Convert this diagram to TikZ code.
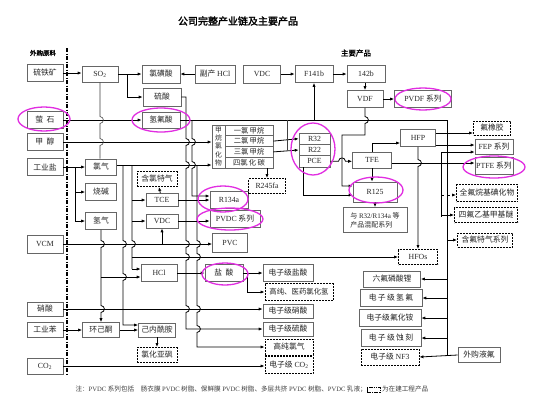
\documentclass[tikz,border=0pt]{standalone}
\usepackage{fontspec}
\setmainfont{Liberation Serif}
\newfontfamily\cjk[AutoFakeBold=2]{Noto Sans CJK SC}
\usetikzlibrary{arrows.meta}
\definecolor{mag}{RGB}{225,45,225}
\tikzset{
 bx/.style={draw=black!60, line width=0.6pt, fill=white, inner sep=0pt, font=\cjk\fontsize{7.8}{8.5}\selectfont, text=black!85, align=center},
 dbx/.style={bx, draw=black, dash pattern=on 2pt off 1pt, line width=0.9pt},
 ar/.style={-{Latex[length=4pt,width=3.2pt]}, line width=0.8pt},
 ln/.style={line width=0.8pt},
 tl/.style={line width=0.6pt, draw=black!75},
 oval/.style={draw=mag, line width=1.3pt},
 vj/.style 2 args={insert path={-- (#1,#2-3.5) .. controls (#1+4.5,#2-3) and (#1+4.5,#2+3) .. (#1,#2+3.5)}},
 hj/.style 2 args={insert path={-- (#1-3.5,#2) .. controls (#1-3,#2-4.5) and (#1+3,#2-4.5) .. (#1+3.5,#2)}},
}
\newcommand{\lt}[1]{{\rmfamily #1}}
\begin{document}
\begin{tikzpicture}[x=1pt,y=-1pt]
\useasboundingbox[fill=white] (0,0) rectangle (554,405);
% titles
\node[font=\cjk\bfseries\fontsize{10}{11}\selectfont] (title) at (238,21) {公司完整产业链及主要产品};
\node[font=\cjk\bfseries\fontsize{6.5}{7}\selectfont] (wg) at (43,53) {外购原料};
\node[font=\cjk\bfseries\fontsize{7.5}{8}\selectfont] (zy) at (356,53) {主要产品};
\draw[line width=1.2pt, dash pattern=on 4pt off 1.5pt on 1pt off 1.5pt] (67,48) -- (67,374);
% left column
\node[bx,minimum width=36,minimum height=17] (liu) at (45,73) {硫铁矿};
\node[bx,minimum width=36,minimum height=17] (ying) at (45,120) {萤\ \ 石};
\node[bx,minimum width=36,minimum height=17] (jiachun) at (45,142) {甲\ \ 醇};
\node[bx,minimum width=36,minimum height=17] (yan) at (45,167) {工业盐};
\node[bx,minimum width=36,minimum height=18] (vcm) at (45,244) {\lt{VCM}};
\node[bx,minimum width=36,minimum height=14] (xiao) at (45,309) {硝酸};
\node[bx,minimum width=36,minimum height=15] (ben) at (45,330) {工业苯};
\node[bx,minimum width=36,minimum height=16] (co2) at (45,366) {\lt{CO\textsubscript{2}}};
% column 2
\node[bx,minimum width=36,minimum height=16] (so2) at (100,74) {\lt{SO\textsubscript{2}}};
\node[bx,minimum width=31,minimum height=16] (lvqi) at (101,167) {氯气};
\node[bx,minimum width=31,minimum height=17] (shaojian) at (101,192) {烧碱};
\node[bx,minimum width=31,minimum height=17] (qingqi) at (101,221) {氢气};
\node[bx,minimum width=37,minimum height=15] (hjt) at (101,330) {环己酮};
% column 3
\node[bx,minimum width=38,minimum height=18] (lvhuang) at (161,74) {氯磺酸};
\node[bx,minimum width=38,minimum height=18] (liusuan) at (162,97) {硫酸};
\node[bx,minimum width=38,minimum height=16] (hf) at (161,120) {氢氟酸};
\node[bx,minimum width=40,minimum height=18] (fuchan) at (215,74) {副产 \lt{HCl}};
\node[bx,minimum width=37,minimum height=18] (vdca) at (262,74) {\lt{VDC}};
\node[bx,minimum width=38,minimum height=17] (f141b) at (314,74) {\lt{F141b}};
\node[bx,minimum width=38,minimum height=17] (b142) at (366,74) {\lt{142b}};
\node[bx,minimum width=36,minimum height=17] (vdf) at (365,99) {\lt{VDF}};
\node[bx,minimum width=57,minimum height=17] (pvdf) at (423,99) {\lt{PVDF} 系列};
% middle
\node[bx,minimum width=32,minimum height=13] (tce) at (162,200) {\lt{TCE}};
\node[bx,minimum width=32,minimum height=14] (vdcb) at (162,221) {\lt{VDC}};
\node[dbx,minimum width=40,minimum height=15] (hanlv) at (157,179) {含氯特气};
\node[bx,minimum width=38,minimum height=17] (r134a) at (229,200) {\lt{R134a}};
\node[bx,minimum width=50,minimum height=17] (pvdc) at (235,219) {\lt{PVDC} 系列};
\node[bx,minimum width=35,minimum height=19] (pvc) at (230,243) {\lt{PVC}};
\node[dbx,minimum width=37,minimum height=15] (r245) at (267,186) {\lt{R245fa}};
% methane chlorides block
\node[bx,minimum width=61,minimum height=43] (ch) at (242.5,146.5) {};
\node[bx,minimum width=13,minimum height=43,font=\cjk\fontsize{6.8}{8.3}\selectfont] (chl) at (218.5,146.5) {甲\\烷\\氯\\化\\物};
\node[bx,minimum width=48,minimum height=10.75,font=\cjk\fontsize{7.3}{8}\selectfont] (ch1) at (249,130.4) {一氯\,甲烷};
\node[bx,minimum width=48,minimum height=10.75,font=\cjk\fontsize{7.3}{8}\selectfont] (ch2) at (249,141.1) {二氯\,甲烷};
\node[bx,minimum width=48,minimum height=10.75,font=\cjk\fontsize{7.3}{8}\selectfont] (ch3) at (249,151.9) {三氯\,甲烷};
\node[bx,minimum width=48,minimum height=10.75,font=\cjk\fontsize{7.3}{8}\selectfont] (ch4) at (249,162.6) {四氯\,化\,碳};
% R block
\node[bx,minimum width=31,minimum height=11.3] (r32) at (314.5,138.7) {\lt{R32}};
\node[bx,minimum width=31,minimum height=11.3] (r22) at (314.5,150) {\lt{R22}};
\node[bx,minimum width=31,minimum height=11.3] (pce) at (314.5,161.3) {\lt{PCE}};
% fluoro
\node[bx,minimum width=39,minimum height=16] (tfe) at (372,160) {\lt{TFE}};
\node[bx,minimum width=35,minimum height=17] (hfp) at (418,138) {\lt{HFP}};
\node[bx,minimum width=44,minimum height=20] (r125) at (375,192) {\lt{R125}};
\node[bx,minimum width=64,minimum height=25,align=left,font=\cjk\fontsize{7}{9}\selectfont] (mix) at (375,220) {与 \lt{R32/R134a} 等\\产品混配系列};
\node[dbx,minimum width=39,minimum height=15] (hfos) at (418,257) {\lt{HFOs}};
\node[dbx,minimum width=37,minimum height=14] (xj) at (492,128) {氟橡胶};
\node[bx,minimum width=38,minimum height=15] (fep) at (494,147) {\lt{FEP} 系列};
\node[bx,minimum width=38,minimum height=17] (ptfe) at (494,166) {\lt{PTFE} 系列};
\node[dbx,minimum width=61,minimum height=17] (qf) at (487,193) {全氟烷基碘化物};
\node[dbx,minimum width=63,minimum height=15] (sf) at (486,215) {四氟乙基甲基醚};
\node[dbx,minimum width=55,minimum height=14] (hfq) at (485,240) {含氟特气系列};
% bottom
\node[bx,minimum width=36,minimum height=17] (hcl) at (159,273) {\lt{HCl}};
\node[bx,minimum width=38,minimum height=17] (ys) at (224,273) {盐\ \ 酸};
\node[bx,minimum width=50,minimum height=17] (dys) at (288,273) {电子级盐酸};
\node[dbx,minimum width=68,minimum height=17,font=\cjk\fontsize{7.4}{8}\selectfont] (gc) at (299,292) {高纯、医药氯化氢};
\node[bx,minimum width=50,minimum height=14] (dxs) at (288,311) {电子级硝酸};
\node[bx,minimum width=50,minimum height=14] (dls) at (288,329) {电子级硫酸};
\node[dbx,minimum width=48,minimum height=16] (gcl) at (289,347) {高纯氯气};
\node[dbx,minimum width=48,minimum height=17] (dco2) at (289,365) {电子级 \lt{CO\textsubscript{2}}};
\node[bx,minimum width=37,minimum height=14] (nxa) at (157,330) {己内酰胺};
\node[dbx,minimum width=40,minimum height=15] (lhy) at (157,355) {氯化亚砜};
\node[bx,minimum width=57,minimum height=16] (lf) at (392,279) {六氟磷酸锂};
\node[bx,minimum width=62,minimum height=17] (dqf) at (391,298) {电\,子\,级\,氢\,氟};
\node[bx,minimum width=62,minimum height=17] (dfa) at (390,318) {电子级氟化铵};
\node[bx,minimum width=60,minimum height=17] (dsk) at (391,338) {电\,子\,级\,蚀\,刻};
\node[dbx,minimum width=58,minimum height=16] (nf3) at (390,357) {电子级 \lt{NF3}};
\node[bx,minimum width=42,minimum height=15] (wgf) at (479,355) {外购液氟};
% ---------- connectors
\draw[ar] (liu.east) -- (liu.east -| so2.west);
\draw[ar] (so2.east) -- (so2.east -| lvhuang.west);
\draw[ar] ([xshift=9]so2.east) |- (liusuan.west);
\draw[ar] (fuchan.west) -- (lvhuang.east);
\draw[ar] (vdca) -- (f141b);
\draw[ar] (f141b) -- (b142);
\draw[ar] (b142.south -| vdf.north) -- (vdf.north);
\draw[ar] (vdf) -- (pvdf);
\draw[ar] (ying.east) -- (ying.east -| hf.west);
\coordinate (busT) at (447,120);
\coordinate (busB) at (447,355);
\draw[ln] (hf.east) -- (busT) -- (busB);
\draw[ar] (f141b.south |- busT) -- (f141b.south);
\draw[ar] (busT |- lf.east) -- (lf.east);
\draw[ar] (busT |- dqf.east) -- (dqf.east);
\draw[ar] (busT |- dfa.east) -- (dfa.east);
\draw[ar] (busT |- dsk.east) -- (dsk.east);
\draw[ar] (busT |- hfq.west) -- (hfq.west);
\draw[ar] (wgf.west) -- (nf3.east);
\draw[ar] (jiachun.east) -- (jiachun.east -| chl.west);
\draw[ar] (yan.east) -- (lvqi.west);
\coordinate (ysp) at (75,167);
\draw[ar] (ysp) |- (shaojian.west);
\draw[ar] (ysp) |- (qingqi.west);
\draw[ar] ([yshift=2]lvqi.east) -- ([yshift=2]lvqi.east -| chl.west);
\draw[tl] (so2.south) [vj={100}{120}] [vj={100}{142}] -- (so2.south |- lvqi.north);
\draw[ar] (qingqi.south) [vj={101}{244}] [vj={101}{309}] -- (hjt.north);
\draw[ar] (101,277) -- (101,277 -| hcl.west);
\draw[ar] (ben) -- (hjt);
\draw[ar] (hjt) -- (nxa);
\draw[ar] (nxa) -- (lhy);
\draw[ar] (hcl) -- (ys);
\draw[ar] (ys) -- (dys);
\draw[ar] ([xshift=4]ys.east) |- (gc.west);
\draw[ar] (xiao.east) -- (xiao.east -| dxs.west);
\draw[ar] (co2.east) -- (co2.east -| dco2.west);
\draw[ar] (vcm.east) -- (vcm.east -| pvc.west);
\draw[ar] (vcm.east -| vdcb.south) -- (vdcb.south);
\draw[ar] (tce.east) -- (tce.east -| r134a.west);
\draw[ar] (tce) -- (hanlv);
\draw[ar] (vdcb.east) -- (vdcb.east -| pvdc.west);
% chlorine branches
\draw[ar] (123,165) [vj={123}{244}] [vj={123}{277}] -- (123,325) -- (nxa.west |- 0,325);
\draw[ln] (132,165) [vj={132}{244}] -- (132,269);
\draw[ar] (132,200) -- (tce.west);
\draw[ar] (132,221) -- (vdcb.west);
\draw[ar] (132,257) -- (hfos.west);
\draw[ar] (132,269) -- (hcl.west |- 0,269);
% sulphuric acid / HF / chlorine verticals
\draw[ar] (liusuan.east) -- (186,97) [vj={186}{142}] [vj={186}{165}] [vj={186}{244}] [vj={186}{257}] [vj={186}{309}] -- (186,329) -- (dls.west);
\draw[ar] (192,120) [vj={192}{142}] [vj={192}{165}] -- (192,196) -- (r134a.west |- 0,196);
\draw[ar] (197,165) [vj={197}{244}] [vj={197}{257}] [vj={197}{309}] [vj={197}{329}] -- (197,347) -- (gcl.west);
% methane chlorides to R block
\draw[ar] (ch2.east) -- (r32.west);
\draw[ar] (ch3.east) -- (r22.west);
\draw[ar] (ch4.south -| r245.north) -- (r245.north);
\draw[tl] (287,120) -- (287,150);
\draw[ar] (pce.east) [hj={342}{161.3}] -- (tfe.west |- pce.east);
\draw[ar] ([xshift=5]pce.south west) |- ([yshift=-3]r125.west);
\draw[ar] (vdf.south) [vj={365}{120}] -- (365,135) -| (342,186) -- (r125.west |- 0,186);
\draw[ar] (tfe.north) |- ([yshift=-5]hfp.west);
\draw[ar] ([yshift=-3]tfe.east) -- ([yshift=-3]tfe.east -| ptfe.west);
\draw[ar] (tfe.south) -- (tfe.south |- r125.north);
\draw[ar] (r125) -- (mix);
\draw[ar] ([yshift=5]hfp.east) -- ([yshift=5]hfp.east -| xj.west);
\draw[ar] ([yshift=-7]hfp.east) -- ([yshift=-7]hfp.east -| fep.west);
\draw[ln] (441,152) -- (441,217);
\draw[ar] (441,152) -- (fep.west |- 0,152);
\draw[ar] (441,215) -- (sf.west);
\draw[ar, dashed] (441,195) -- (qf.west |- 0,195);
\draw[ar] (hfp.south) [vj={418}{163}] -- (hfos.north);
% ovals
\draw[oval] (44,119) ellipse (26 and 12);
\draw[oval] (161,120) ellipse (29 and 12);
\draw[oval] (423,99) ellipse (28 and 11);
\draw[oval] (223,199) ellipse (25 and 13);
\draw[oval] (230,219) ellipse (33 and 11);
\draw[oval] (313,149) ellipse (22 and 26);
\draw[oval] (376,190) ellipse (27 and 13);
\draw[oval] (494,167) ellipse (31 and 11);
\draw[oval] (225,274) ellipse (23 and 11);
% note
\node[font=\cjk\fontsize{6.6}{7.5}\selectfont, text=black!75, anchor=west] (note) at (72,389) {注：\lt{PVDC} 系列包括\quad 肠衣膜 \lt{PVDC} 树脂、保鲜膜 \lt{PVDC} 树脂、多层共挤 \lt{PVDC} 树脂、\lt{PVDC} 乳液；\tikz[baseline=-0.5ex]\draw[black,line width=0.8pt,dash pattern=on 1.5pt off 0.8pt] (0,-2.5pt) rectangle (13pt,2.5pt); 为在建工程产品};
\end{tikzpicture}
\end{document}
